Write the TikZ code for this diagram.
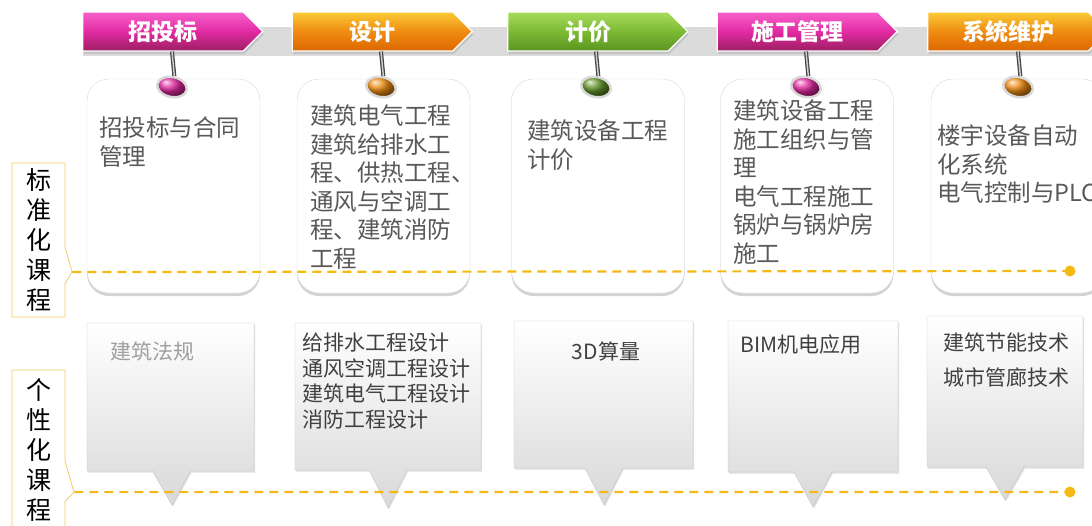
\documentclass[tikz,border=0pt]{standalone}
\usepackage{fontspec}
\setmainfont{Noto Sans CJK SC}
\usepackage{tikz}
\usetikzlibrary{shapes,shapes.symbols,shapes.callouts,shadows,positioning,calc}

\definecolor{pinkA}{HTML}{F860CC}
\definecolor{pinkM}{HTML}{E22AA2}
\definecolor{pinkB}{HTML}{9C1E62}
\definecolor{orangeA}{HTML}{FACB34}
\definecolor{orangeM}{HTML}{EF8C12}
\definecolor{orangeB}{HTML}{DC6600}
\definecolor{greenA}{HTML}{A8DA5C}
\definecolor{greenM}{HTML}{7CBA34}
\definecolor{greenB}{HTML}{5A9420}
\definecolor{goldline}{HTML}{F5B914}
\definecolor{goldframe}{HTML}{F0CD62}
\definecolor{cardtxt}{HTML}{595959}
\definecolor{boxtxt}{HTML}{404040}

\begin{document}
\begin{tikzpicture}[x=1pt,y=-1pt,on grid,
    head/.style={signal,signal to=east,signal pointer angle=90,minimum width=180,minimum height=39,
      inner sep=0,draw=white,line width=1.2pt,text=white,font=\fontsize{23}{23}\selectfont\bfseries,
      drop shadow={shadow xshift=1pt,shadow yshift=-3pt,opacity=.25}},
    pinkhead/.style={head,top color=pinkA,bottom color=pinkB,middle color=pinkM},
    orangehead/.style={head,top color=orangeA,bottom color=orangeB,middle color=orangeM},
    greenhead/.style={head,top color=greenA,bottom color=greenB,middle color=greenM},
    card/.style={rectangle,rounded corners=22,minimum width=173,minimum height=214,draw=gray!30,fill=white,
      drop shadow={shadow xshift=0pt,shadow yshift=-3pt,opacity=.35}},
    cardtext/.style={anchor=north west,inner sep=0,align=left,text=cardtxt,font=\fontsize{23.5}{28.5}\selectfont},
    stick/.style={draw=gray!55!black,line width=1.3pt,double=gray!35,double distance=1.4pt},
    dot/.style={ellipse,minimum width=30,minimum height=20,inner sep=0,draw=gray!30,line width=2.5pt,rotate=-12},
    bubble/.style={rectangle callout,callout pointer width=38,draw=gray!45,top color=white,bottom color=gray!30,
      drop shadow={shadow xshift=1pt,shadow yshift=-1.5pt,opacity=.25}},
    bubbletext/.style={anchor=north west,inner sep=0,align=left,text=boxtxt,font=\fontsize{21}{25.7}\selectfont},
    tag/.style={rectangle callout,draw=goldframe,fill=white,line width=.8pt,minimum width=53,inner sep=0,
      align=center,font=\fontsize{25}{30}\selectfont},
    dashline/.style={draw=goldline,line width=2.2pt,dash pattern=on 9pt off 6pt},
    enddot/.style={circle,fill=goldline,minimum size=11,inner sep=0}]
  \useasboundingbox (0,0) rectangle (1092,525);
  \clip (0,0) rectangle (1092,525);

  \fill[gray!28] (83,27) rectangle (1092,56);

  \node[pinkhead] (h_1) at (163,31.5) {招投标};
  \node[orangehead] (h_2) [right=209.5 of h_1] {设计};
  \node[greenhead] (h_3) [right=215.5 of h_2] {计价};
  \node[pinkhead] (h_4) [right=209.5 of h_3] {施工管理};
  \node[orangehead] (h_5) [right=210.5 of h_4] {系统维护};

  \node[card] (c_1) at (173.5,186) {};
  \node[card] (c_2) at (383.5,186) {};
  \node[card] (c_3) at (598,186) {};
  \node[card] (c_4) at (807,186) {};
  \node[card] (c_5) at (1017.5,186) {};

  \node[dot,ball color=pinkM] (d_1) at (172,87) {};
  \node[dot,ball color=orangeM] (d_2) at (381,87) {};
  \node[dot,ball color=greenM!80!black] (d_3) at (596,87) {};
  \node[dot,ball color=pinkM] (d_4) at (806,87) {};
  \node[dot,ball color=orangeM] (d_5) at (1018,87) {};
  \foreach \i in {1,...,5}
    \draw[stick] (d_\i |- h_\i.south) -- (d_\i.north);

  \node[cardtext] (t_1) at (99,116.5) {招投标与合同\\管理};
  \node[cardtext] (t_2) at (310,104.5) {建筑电气工程\\建筑给排水工\\程、供热工程、\\通风与空调工\\程、建筑消防\\工程};
  \node[cardtext] (t_3) at (527,119.5) {建筑设备工程\\计价};
  \node[cardtext] (t_4) at (733,99.5) {建筑设备工程\\施工组织与管\\理\\电气工程施工\\锅炉与锅炉房\\施工};
  \node[cardtext] (t_5) at (937,124.5) {楼宇设备自动\\化系统\\电气控制与PLC};

  \node[bubble,minimum width=167,minimum height=148,callout absolute pointer={(172,505)}] (b_1) at (170.5,397) {};
  \node[bubble,minimum width=186,minimum height=147,callout absolute pointer={(388,508)}] (b_2) at (388,396.5) {};
  \node[bubble,minimum width=179,minimum height=147,callout absolute pointer={(604,505)}] (b_3) at (603.5,394.5) {};
  \node[bubble,minimum width=170,minimum height=151,callout absolute pointer={(813,507)}] (b_4) at (813,396.5) {};
  \node[bubble,minimum width=156,minimum height=151,callout absolute pointer={(1005,500)}] (b_5) at (1005,391.5) {};

  \node[bubbletext,text=gray!75] (s_1) at (110,341.5) {建筑法规};
  \node[bubbletext] (s_2) at (302,332.5) {给排水工程设计\\通风空调工程设计\\建筑电气工程设计\\消防工程设计};
  \node[bubbletext,anchor=north] (s_3) at (606,341.5) {3D算量};
  \node[bubbletext] (s_4) at (740,334.5) {BIM机电应用};
  \node[bubbletext,font=\fontsize{21}{35}\selectfont] (s_5) at (943,332.5) {建筑节能技术\\城市管廊技术};

  \node[tag,minimum height=154,callout pointer width=37,callout absolute pointer={(72,272)}] (l_1) at (38.5,240) {标\\准\\化\\课\\程};
  \node[tag,minimum height=160,callout pointer width=40,callout absolute pointer={(74,492)}] (l_2) at (38.5,450) {个\\性\\化\\课\\程};

  \coordinate (e_1) at (1070,271);
  \coordinate (e_2) at (1070,492);
  \draw[dashline] (l_1.pointer) -- (e_1);
  \draw[dashline] (l_2.pointer) -- (e_2);
  \node[enddot] at (e_1) {};
  \node[enddot] at (e_2) {};
\end{tikzpicture}
\end{document}
